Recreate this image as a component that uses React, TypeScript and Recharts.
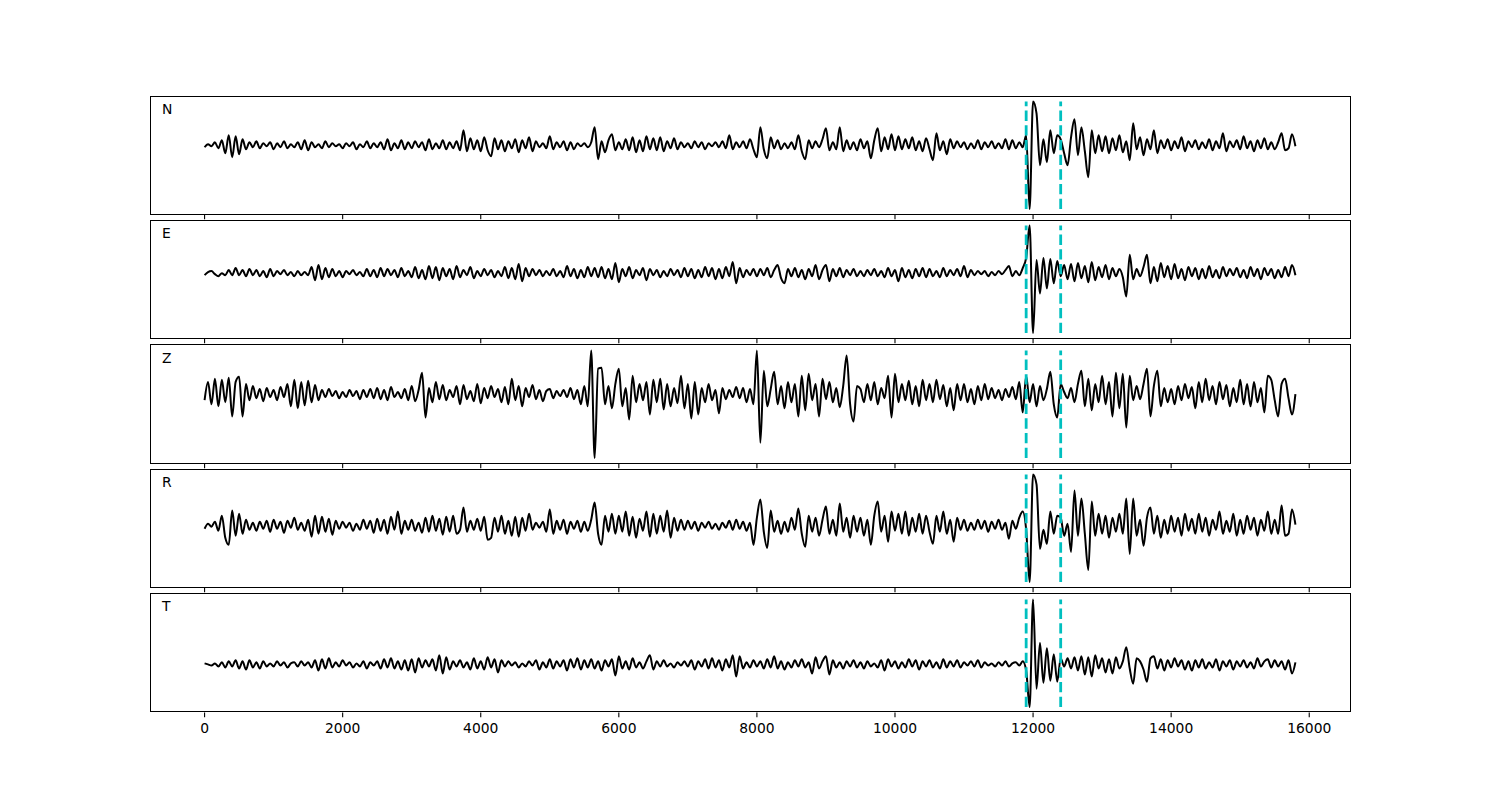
import { LineChart, Line, XAxis, YAxis, ReferenceLine } from "recharts"

// samples every 50 units, 0..15800
const SAMPLE_STEP = 50
const SAMPLE_COUNT = 317
const TIMES = Array.from({ length: SAMPLE_COUNT }, (_, i) => i * SAMPLE_STEP)

const X_TICKS = [0, 2000, 4000, 6000, 8000, 10000, 12000, 14000, 16000]
const PICKS = [11900, 12400]
const COMPONENTS = ["N", "E", "Z", "R", "T"]

const N_TRACE = [
  -2, 1, -1, 3, -3, 5, -8, 10, -12, 9,
  -9, 6, -4, 3, -2, 4, -3, 2, -1, 3,
  -4, 2, -2, 4, -3, 1, -2, 3, -4, 5,
  -5, 3, -2, 1, -3, 4, -2, 2, -1, 1,
  -3, 2, -1, 3, -4, 1, -2, 4, -3, 2,
  -2, 3, -4, 6, -5, 2, -3, 5, -4, 3,
  -3, 4, -2, 3, -5, 6, -4, 2, -3, 5,
  -4, 3, -3, 4, -5, 15, -6, 7, -4, 5,
  -6, 8, -5, -11, 7, -4, 5, -6, 4, -3,
  6, -7, 5, -3, 8, -6, 4, -2, 2, -3,
  9, -4, 3, -2, 4, -5, 3, -4, 2, -1,
  2, -2, 3, 18, -14, 4, -7, 5, 11, -5,
  3, -4, 6, -5, 8, -7, 5, -6, 9, -4,
  7, -5, 8, -6, 4, -3, 7, -4, 3, -2,
  2, -3, 4, -2, 3, -4, 2, -1, 3, -2,
  4, -3, 10, -4, 3, -2, 4, -3, 6, -4,
  -12, 18, -4, -13, 8, -3, 5, -4, 2, -3,
  3, -4, 10, -6, -14, 5, -3, 4, -2, 6,
  17, -5, 3, -4, 18, -6, 5, -4, 3, -5,
  6, -3, 4, -13, 5, 17, -6, 8, -4, 11,
  -5, 9, -4, 6, -3, 8, -5, 4, -6, 7,
  -4, -15, 12, -5, 4, -9, 6, -3, 4, -2,
  3, -4, 2, -3, 5, -4, 3, -2, 4, -3,
  2, -3, 6, -4, 5, -3, 3, -2, 10, -64,
  44, 32, -20, 6, -17, 15, -8, 10, 6, -8,
  -20, 8, 26, -10, 18, -6, -32, 15, -8, 10,
  -6, 9, -8, 7, -5, 10, -7, 4, -15, 22,
  -4, 8, -10, 6, -4, 15, -8, 5, -3, 6,
  -5, 4, -3, 8, -6, 4, -2, 5, -4, 3,
  -3, 6, -5, 4, -3, 12, -6, 4, -2, 5,
  -4, 9, -3, 4, -6, 5, -3, 7, -4, 3,
  -4, 3, 12, -5, -3, 11, -1,
]

const E_TRACE = [
  -2, 1, 2, -1, -3, 0, -2, 3, -2, 5,
  -2, 3, -3, 4, -2, 3, -3, 2, -4, 4,
  -3, 2, -1, 3, -2, 1, -3, 2, -2, 1,
  -2, 6, -7, 8, -6, 5, -4, 4, -3, 2,
  -4, 2, -1, 3, -2, 1, -3, 4, -3, 3,
  -4, 5, -3, 4, -2, 3, -4, 5, -3, 2,
  -4, 6, -5, 3, -6, 7, -5, 6, -7, 5,
  -3, 4, -6, 7, -4, 3, -2, 6, -5, 2,
  -3, 4, -2, 3, -4, 2, -3, 6, -5, 5,
  -6, 9, -8, 5, -3, 4, -2, 3, -3, 2,
  -2, 4, -3, 2, -4, 7, -3, 4, -5, 3,
  -4, 6, -3, 5, -4, 6, -5, 4, -6, 10,
  -9, 4, -3, 6, -5, 3, -2, 5, -7, 4,
  -2, 3, -4, 2, -3, 4, -2, 3, -4, 5,
  -3, 4, -5, 3, -4, 6, -3, 5, -6, 4,
  -5, 6, -3, 11, -10, 5, -4, 3, -2, 4,
  -3, 4, -2, 5, -4, 3, 8, -5, -10, 4,
  -3, 5, -4, 3, -6, 4, -3, 8, -6, 3,
  8, -8, 4, -3, 5, -4, 3, -2, 4, -3,
  2, -3, 3, -2, 4, -3, 2, -4, 5, -3,
  3, -8, 5, -4, 3, -5, 4, -3, 5, -4,
  4, -3, 2, -4, 5, -3, 3, -2, 4, -3,
  7, -4, 3, -2, 2, -1, 2, -3, 1, -2,
  2, -1, 3, 7, -3, 2, -2, 5, 15, 47,
  -59, 13, -20, 15, -15, 14, -10, 12, -3, 8,
  -6, 9, -8, 10, -5, 7, -9, 11, -7, 6,
  -4, 8, -6, 5, -3, 4, -4, -23, 18, -6,
  4, -3, 6, 18, -10, 6, -8, 10, -4, 7,
  -6, 9, -5, 4, -7, 6, -3, 5, -6, 4,
  -5, 7, -4, 3, -5, 6, -3, 4, -2, 5,
  -4, 3, -5, 6, -3, 4, -6, 5, -2, 4,
  -5, 3, -4, 6, -3, 8, -2,
]

const Z_TRACE = [
  -6, 12, -10, 15, -12, 14, -8, 16, -22, 12,
  17, -22, 10, -6, 8, -4, 5, -7, 6, -3,
  4, -6, 7, -3, 10, -12, 14, -14, 12, -11,
  13, -8, 9, -6, 4, -3, 5, -2, 3, -4,
  2, -3, 4, -2, 3, -5, 4, -3, 5, -4,
  6, -5, 4, -6, 7, -3, 2, -4, 5, -6,
  8, -7, 4, 21, -23, 6, -8, 12, -5, 9,
  -6, 4, -3, 8, -10, 9, -5, 3, -7, 10,
  -9, 6, -4, 8, -3, 5, -8, 7, -10, 15,
  -6, 8, -12, 6, -3, 9, -5, 4, -7, 3,
  5, -4, 3, -2, 4, -3, 6, -5, 4, -10,
  8, -12, 43, -63, 25, 26, -10, 8, -14, 10,
  25, -12, 6, -25, 18, -8, 10, -6, 12, -20,
  14, -8, 15, -15, 10, -12, 6, -9, 18, -14,
  10, -24, 12, -20, 6, -8, 10, -6, 4, -19,
  6, -5, 4, -3, 7, -4, 6, -8, 5, -10,
  43, -48, 23, -12, 5, 22, -10, 8, -14, 12,
  -8, 10, -22, 18, -16, 20, -6, 10, -22, 15,
  -5, 12, -8, 6, -13, 8, 38, -10, -27, 8,
  5, -8, 10, -6, 12, -10, 6, -4, 18, -23,
  20, -8, 10, -6, 13, -10, 8, -12, 14, -6,
  10, -8, 14, -5, 9, -12, 6, -16, 10, -6,
  10, -8, 5, -10, 8, -6, 10, -5, 6, -4,
  4, -6, 5, -3, 7, -5, 12, -18, 18, -8,
  10, -12, 8, -6, 5, 22, -10, -23, 10, 2,
  -4, 6, -8, 10, 23, -12, 15, -16, 10, -8,
  18, -10, 12, -22, 21, -14, 20, -33, 18, -6,
  8, -5, 10, 25, -22, 8, 23, -12, 6, -8,
  5, -10, 8, -6, 10, -4, 7, -14, 12, -8,
  15, -6, 8, -10, 12, -5, 9, -12, 6, -8,
  14, -10, 10, -12, 12, -8, 6, -18, 18, 14,
  -6, -22, 10, 15, -4, -20, 0,
]

const R_TRACE = [
  -3, 2, -1, 4, -5, 10, -12, -19, 15, -10,
  12, -8, 6, -4, 3, -5, 4, -3, 5, -6,
  6, -3, 4, -7, 5, -2, 8, -4, 3, -5,
  6, -11, 10, -8, 9, -6, 7, -9, 5, -3,
  4, -2, 3, -5, 2, -4, 6, -3, 5, -7,
  7, -5, 6, -8, 9, -4, 14, -8, 5, -4,
  6, -5, 3, -7, 8, -6, 10, -5, 7, -9,
  9, -6, 10, -8, -4, 18, -6, 5, -4, 7,
  -5, 9, -14, -12, 8, -6, 10, -8, 5, -10,
  9, -11, 8, -5, 12, -4, 3, -2, 4, -6,
  16, -8, 5, -4, 6, -8, 4, -3, 5, -6,
  4, -5, 6, 23, -8, -19, 10, -6, 12, -8,
  10, -6, 14, -10, 9, -12, 7, -5, 14, -11,
  12, -8, 10, -6, 15, -12, 8, -5, 6, -4,
  5, -3, 4, -5, 3, -2, 4, -3, 2, -4,
  3, -2, 5, -4, 6, -3, 4, -5, 3, -19,
  8, 26, -6, -22, 15, -6, 5, -8, 4, -6,
  8, -4, 17, -8, -21, 10, -6, 8, -10, 6,
  19, -8, 6, -10, 22, -6, 8, -12, 10, -6,
  8, -10, 6, -19, 10, 24, -6, 10, -16, 14,
  -5, 12, -8, 14, -10, 8, -6, 12, -8, 10,
  -6, -18, 10, -6, 14, -8, 6, -16, 8, -4,
  6, -5, 3, -4, 6, -3, 5, -6, 4, -3,
  6, -4, 3, -13, 5, -3, 8, 14, -4, -56,
  51, 41, -23, -4, -18, 14, -8, 10, 8, -10,
  2, -26, 35, -10, 27, -8, -44, 24, -10, 12,
  -8, 10, -12, 8, -6, 12, -8, 27, -28, 27,
  -10, 6, -20, 8, 18, -8, 10, -12, 6, -8,
  10, -6, 8, -10, 12, -5, 7, -8, 12, -6,
  8, -10, 6, -4, 14, -8, 5, -6, 12, -10,
  6, -8, 10, -4, 8, -10, 6, -5, 14, -8,
  6, -8, 20, -10, -8, 16, 1,
]

const T_TRACE = [
  1, 0, -1, 1, -2, 2, -3, 3, -2, 4,
  -4, 3, -5, 4, -3, 2, -4, 3, -2, 1,
  -2, 3, -1, 2, -3, 1, 2, -2, 3, -1,
  2, -3, 4, -6, 5, -4, 6, -3, 2, -2,
  4, -1, 2, -3, 1, -2, 3, -4, 2, -1,
  3, -4, 5, -3, 6, -4, 3, -5, 4, -6,
  5, -8, 6, -3, 4, -2, 5, -6, 9, -9,
  7, -5, 3, -2, 4, -3, 2, -5, 6, -4,
  3, -5, 7, -3, 5, -8, 4, -2, 3, -1,
  2, -3, 1, -2, 3, -1, 4, -5, 2, -3,
  5, -4, 3, -2, 4, -6, 5, -3, 6, -5,
  4, -3, 5, -4, 3, -6, 4, -2, 5, -11,
  8, -4, 3, -5, 6, -3, 2, -4, 3, 9,
  -5, 3, -2, 4, -2, 1, -3, 2, -1, 3,
  -2, 4, -5, 3, -2, 5, -4, 6, -3, 4,
  -6, 5, -3, 9, -12, 8, -4, 2, -3, 4,
  -2, 3, -4, 5, -3, 8, -4, 3, -5, 2,
  -3, 4, -2, 5, -3, 2, -9, 7, -4, 3,
  8, -10, 4, -3, 2, -4, 3, -2, 4, -3,
  2, -4, 3, -2, 1, -3, 4, -6, 5, -2,
  3, -4, 2, -3, 5, -2, 4, -5, 3, -2,
  4, -3, 2, -4, 5, -3, 3, -2, 4, -3,
  2, -1, 3, -2, 4, -3, 2, -1, 1, -2,
  2, -1, 3, -2, 1, 2, -1, 3, -6, -42,
  64, -24, 21, -18, 16, -16, 10, -17, 6, -2,
  6, -4, 7, -6, 8, -10, 7, -12, 9, -4,
  6, -8, 5, -9, 7, -4, 3, 17, -4, -19,
  6, 3, -5, -17, 6, 8, -4, 5, -6, 4,
  -3, 6, -2, 4, -5, 3, -6, 4, -3, 5,
  -4, 2, -3, 5, -6, 3, -2, 4, -5, 3,
  -2, 4, -3, 2, -4, 6, -2, 3, 5, -3,
  4, -2, 3, -5, 4, -9, 2,
]

const TRACES: Record<string, number[]> = {
  N: N_TRACE,
  E: E_TRACE,
  Z: Z_TRACE,
  R: R_TRACE,
  T: T_TRACE,
}

const rows = TIMES.map((t, i) => {
  const row: Record<string, number> = { t }
  for (const c of COMPONENTS) row[c] = TRACES[c][i]
  return row
})

// figure geometry (matplotlib-like subplots_adjust)
const FIG_W = 1500
const FIG_H = 800
const LEFT = 150
const PLOT_W = 1200
const TOP = 96
const BOTTOM = 712
const PANEL_H = (BOTTOM - TOP) / 5.2
const GAP = PANEL_H * 0.05
const AXIS_H = 30
const X_DOMAIN: [number, number] = [-790, 16590]
const FONT = "DejaVu Sans, sans-serif"

function yDomain(values: number[]): [number, number] {
  const lo = Math.min(...values)
  const hi = Math.max(...values)
  const pad = (hi - lo) * 0.05
  return [lo - pad, hi + pad]
}

function NoTick() {
  return <g />
}

function Panel({ name, index }: { name: string; index: number }) {
  const values = TRACES[name]
  const lo = Math.min(...values)
  const hi = Math.max(...values)
  const top = TOP + index * (PANEL_H + GAP)
  const last = index === COMPONENTS.length - 1

  return (
    <div style={{ position: "absolute", left: 0, top }}>
      <LineChart
        width={FIG_W}
        height={PANEL_H + AXIS_H}
        data={rows}
        margin={{ top: 0, right: FIG_W - LEFT - PLOT_W, bottom: 0, left: LEFT }}
      >
        <XAxis
          dataKey="t"
          type="number"
          domain={X_DOMAIN}
          ticks={X_TICKS}
          interval={0}
          allowDataOverflow
          height={AXIS_H}
          axisLine={false}
          tickLine={{ stroke: "#000", strokeWidth: 1.1 }}
          tickSize={4.9}
          tickMargin={6}
          tick={
            last
              ? { fill: "#000", fontSize: 13.9, fontFamily: FONT }
              : NoTick
          }
        />
        <YAxis hide type="number" domain={yDomain(values)} allowDataOverflow />
        <Line
          dataKey={name}
          type="monotone"
          stroke="#000"
          strokeWidth={2}
          dot={false}
          isAnimationActive={false}
        />
        {PICKS.map((p) => (
          <ReferenceLine
            key={p}
            segment={[
              { x: p, y: lo },
              { x: p, y: hi },
            ]}
            stroke="#00bfbf"
            strokeWidth={2.8}
            strokeDasharray="10.3 4.4"
          />
        ))}
      </LineChart>
    </div>
  )
}

export default function App() {
  return (
    <div
      style={{
        position: "absolute",
        left: 0,
        top: 0,
        width: FIG_W,
        height: FIG_H,
        background: "#fff",
        overflow: "hidden",
      }}
    >
      {COMPONENTS.map((c, i) => (
        <Panel key={c} name={c} index={i} />
      ))}
      {COMPONENTS.map((c, i) => (
        <div
          key={`frame-${c}`}
          style={{
            position: "absolute",
            left: LEFT - 0.5,
            top: TOP + i * (PANEL_H + GAP) - 0.5,
            width: PLOT_W + 1,
            height: PANEL_H + 1,
            border: "1px solid #000",
            boxSizing: "border-box",
            pointerEvents: "none",
          }}
        />
      ))}
      <svg
        width={FIG_W}
        height={FIG_H}
        style={{ position: "absolute", left: 0, top: 0, pointerEvents: "none" }}
      >
        {COMPONENTS.map((c, i) => (
          <text
            key={c}
            x={LEFT + 12}
            y={TOP + i * (PANEL_H + GAP) + 17.8}
            fontFamily={FONT}
            fontSize={13.9}
            fill="#000"
          >
            {c}
          </text>
        ))}
      </svg>
    </div>
  )
}
